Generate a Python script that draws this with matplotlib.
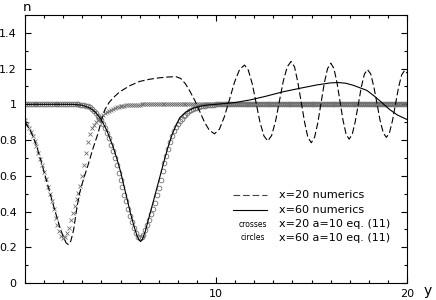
import numpy as np
import matplotlib
matplotlib.use("Agg")
import matplotlib.pyplot as plt
from matplotlib.ticker import MultipleLocator, FixedLocator, FuncFormatter

# x=20 numerics (dashed)
dash_y = [0.0, 0.3, 0.6, 0.9, 1.2, 1.5, 1.8, 2.0, 2.15, 2.27, 2.4, 2.55, 2.7, 2.85,
          3.05, 3.3, 3.55, 3.83, 4.0, 4.18, 4.4, 4.65, 4.96, 5.5, 6.0, 6.5, 7.0, 7.5,
          7.9, 8.15, 8.4, 8.65, 8.9, 9.15, 9.4, 9.65, 9.92,
          10.18, 10.44, 10.71, 10.97, 11.23, 11.49,
          11.69, 11.90, 12.10, 12.30, 12.51, 12.71,
          12.91, 13.12, 13.32, 13.52, 13.73, 13.93,
          14.11, 14.28, 14.46, 14.64, 14.81, 14.99,
          15.16, 15.33, 15.50, 15.67, 15.84, 16.01,
          16.17, 16.33, 16.49, 16.65, 16.81, 16.97,
          17.13, 17.29, 17.45, 17.61, 17.77, 17.93,
          18.10, 18.26, 18.43, 18.59, 18.76, 18.92,
          19.08, 19.24, 19.40, 19.56, 19.72, 19.88, 20.0]
dash_n = [0.90, 0.85, 0.77, 0.66, 0.545, 0.43, 0.32, 0.26, 0.225, 0.215, 0.235, 0.30, 0.41, 0.50,
          0.577, 0.66, 0.75, 0.84, 0.91, 0.97, 1.01, 1.04, 1.07, 1.105, 1.128, 1.14, 1.148, 1.153,
          1.155, 1.145, 1.115, 1.07, 1.02, 0.96, 0.90, 0.855, 0.835,
          0.861, 0.931, 1.028, 1.124, 1.194, 1.22,
          1.192, 1.114, 1.008, 0.901, 0.823, 0.795,
          0.825, 0.906, 1.018, 1.129, 1.210, 1.24,
          1.21, 1.126, 1.013, 0.899, 0.815, 0.785,
          0.815, 0.896, 1.008, 1.119, 1.20, 1.23,
          1.202, 1.124, 1.018, 0.911, 0.833, 0.805,
          0.831, 0.903, 1.0, 1.098, 1.169, 1.195,
          1.17, 1.10, 1.005, 0.91, 0.84, 0.815,
          0.84, 0.909, 1.003, 1.096, 1.165, 1.19, 1.175]

# x=60 numerics (solid)
solid_y = [0.0, 2.5, 3.0, 3.4, 3.7, 4.0, 4.3, 4.6, 4.8, 5.0, 5.3, 5.5, 5.7, 5.85, 5.95,
           6.05, 6.15, 6.3, 6.5, 6.7, 6.9, 7.1, 7.3, 7.5, 7.7, 7.9, 8.1, 8.4, 8.8, 9.2,
           9.6, 10.0, 11.0, 11.8, 12.6, 13.5, 14.4, 15.3, 16.0, 16.4, 16.8, 17.2, 17.6,
           17.9, 18.3, 18.7, 19.1, 19.5, 20.0]
solid_n = [1.0, 1.0, 0.995, 0.98, 0.955, 0.913, 0.85, 0.765, 0.70, 0.625, 0.49, 0.40, 0.32,
           0.27, 0.245, 0.232, 0.245, 0.29, 0.37, 0.45, 0.53, 0.61, 0.69, 0.765, 0.83, 0.88,
           0.925, 0.955, 0.978, 0.99, 0.997, 1.0, 1.01, 1.025, 1.045, 1.07, 1.09, 1.109,
           1.12, 1.122, 1.118, 1.106, 1.09, 1.078, 1.045, 1.008, 0.97, 0.94, 0.915]

# eq. (11), a=10, sampled every 0.1 in y
theory_y = np.linspace(0, 20, 201)
cross_dip = [0.91, 0.89, 0.87, 0.845, 0.82, 0.795, 0.765, 0.73, 0.695, 0.66,
             0.62, 0.58, 0.54, 0.50, 0.46, 0.415, 0.365, 0.325, 0.29, 0.265,
             0.252, 0.258, 0.28, 0.31, 0.35, 0.39, 0.43, 0.47, 0.505, 0.545,
             0.60, 0.66, 0.73, 0.79, 0.835, 0.865, 0.885, 0.90, 0.91, 0.92,
             0.93, 0.94, 0.95, 0.958, 0.965, 0.971, 0.976, 0.98, 0.984, 0.987,
             0.99, 0.992, 0.993, 0.994, 0.995, 0.996, 0.997, 0.998, 0.998, 0.999,
             0.999]
cross_n = cross_dip + [1.0] * (201 - len(cross_dip))

circle_dip = [0.999, 0.998, 0.996, 0.993, 0.989, 0.983, 0.975, 0.965, 0.952, 0.937, 0.925,
              0.91, 0.89, 0.865, 0.84, 0.81, 0.775, 0.74, 0.70, 0.66, 0.615,
              0.575, 0.535, 0.495, 0.46, 0.415, 0.375, 0.34, 0.31, 0.28, 0.26,
              0.25, 0.255, 0.27, 0.295, 0.325, 0.355, 0.385, 0.415, 0.45, 0.49,
              0.53, 0.575, 0.625, 0.67, 0.71, 0.75, 0.79, 0.82, 0.85, 0.872,
              0.89, 0.906, 0.92, 0.932, 0.943, 0.952, 0.96, 0.967, 0.973, 0.978,
              0.982, 0.986, 0.989, 0.991, 0.993, 0.995, 0.996, 0.997, 0.998, 0.999]
circle_n = [1.0] * 29 + circle_dip
circle_n = circle_n + [1.0] * (201 - len(circle_n))

legend_labels = ["x=20 numerics", "x=60 numerics", "x=20 a=10 eq. (11)", "x=60 a=10 eq. (11)"]

plt.rcParams['font.family'] = ['DejaVu Sans']

fig = plt.figure(figsize=(4.36, 3.0), dpi=100)
ax = fig.add_axes([25 / 436, 1 - 283 / 300, 382 / 436, 268 / 300])

gray = "#707070"
ax.plot(theory_y, cross_n, linestyle="none", marker="x", ms=3.2, mew=0.6, color=gray, zorder=2)
ax.plot(theory_y, circle_n, linestyle="none", marker="o", ms=3.4, mew=0.6,
        mfc="none", mec=gray, zorder=2)
ax.plot(dash_y, dash_n, color="black", lw=0.8, dashes=(6, 2.6), zorder=3)
ax.plot(solid_y, solid_n, color="black", lw=0.8, zorder=3)

ax.set_xlim(0, 20)
ax.set_ylim(0, 1.5)

ax.xaxis.set_major_locator(FixedLocator([10, 20]))
ax.xaxis.set_minor_locator(MultipleLocator(1))
ax.yaxis.set_major_locator(MultipleLocator(0.2))
ax.yaxis.set_minor_locator(MultipleLocator(0.1))
ax.yaxis.set_major_formatter(FuncFormatter(lambda v, p: f"{v:g}"))
ax.tick_params(which="both", direction="in", top=True, right=True, width=0.8, labelsize=8)
ax.tick_params(which="major", length=4)
ax.tick_params(which="minor", length=2.5)
ax.tick_params(axis="y", pad=6)
ax.tick_params(axis="x", pad=4)
for s in ax.spines.values():
    s.set_linewidth(0.8)

ax.text(0.005, 1.005, "n", transform=ax.transAxes, fontsize=9.5, ha="center", va="bottom")
ax.text(1.055, -0.03, "y", transform=ax.transAxes, fontsize=10, ha="center", va="center")

# legend drawn by hand
ax.plot([0.545, 0.634], [0.328, 0.328], transform=ax.transAxes, color="#444444", lw=0.8,
        dashes=(6, 2.6))
ax.plot([0.545, 0.634], [0.272, 0.272], transform=ax.transAxes, color="black", lw=0.8)
ax.text(0.597, 0.220, "crosses", transform=ax.transAxes, fontsize=5.5, ha="center", va="center")
ax.text(0.597, 0.168, "circles", transform=ax.transAxes, fontsize=5.5, ha="center", va="center")
for i, lab in enumerate(legend_labels):
    ax.text(0.665, [0.328, 0.272, 0.220, 0.168][i], lab, transform=ax.transAxes,
            fontsize=8, ha="left", va="center")

fig.savefig("out.png", dpi=100)
